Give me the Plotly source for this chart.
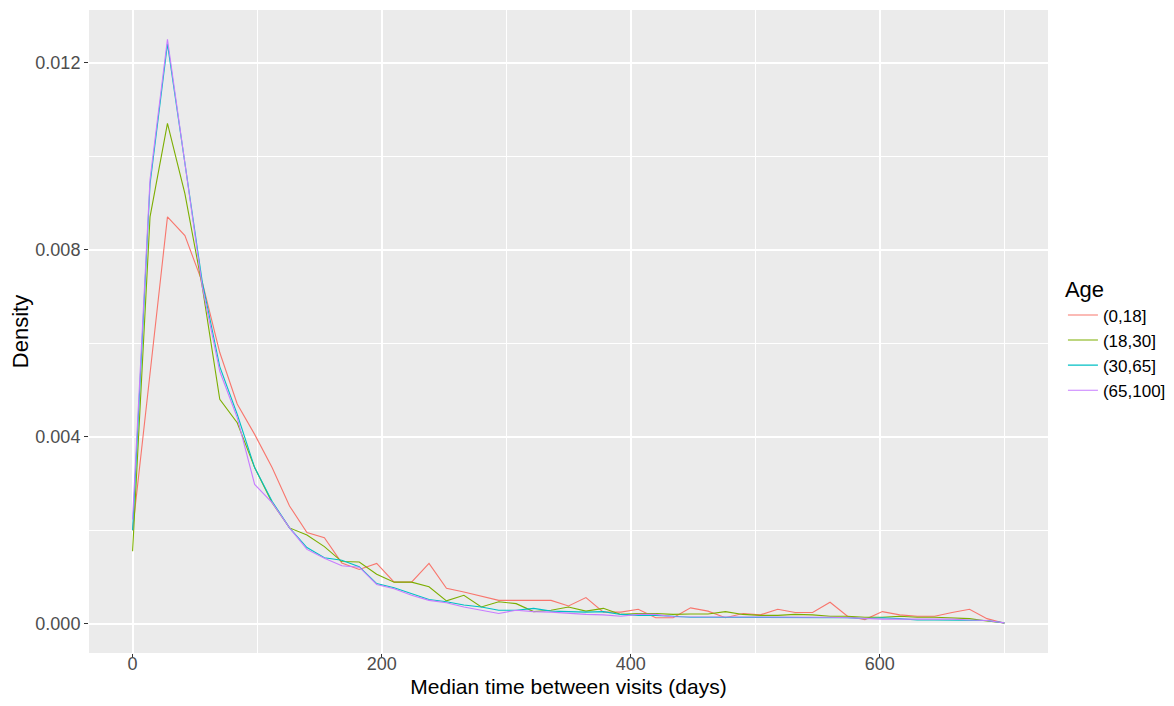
import plotly.graph_objects as go

# bin centres (days)
days = [0, 14, 28, 42, 56, 70, 84, 98, 112, 126, 140, 154, 168, 182, 196, 210,
        224, 238, 252, 266, 280, 294, 308, 322, 336, 350, 364, 378, 392, 406,
        420, 434, 448, 462, 476, 490, 504, 518, 532, 546, 560, 574, 588, 602,
        616, 630, 644, 658, 672, 686, 700]

age_groups = ["(0,18]", "(18,30]", "(30,65]", "(65,100]"]

dens_0_18 = [0.0020, 0.0053, 0.0087, 0.0083, 0.0073, 0.0058, 0.0047, 0.00405,
             0.00334, 0.00252, 0.00195, 0.00184, 0.0013, 0.00116, 0.00129,
             0.00089, 0.00089, 0.00129, 0.00076, 0.00068, 0.00059, 0.0005,
             0.0005, 0.0005, 0.0005, 0.00038, 0.00056, 0.00025, 0.00025,
             0.00031, 0.00013, 0.00013, 0.00034, 0.00027, 0.00013, 0.00022,
             0.00019, 0.00031, 0.00024, 0.00024, 0.00046, 0.00016, 0.00009,
             0.00026, 0.00019, 0.00016, 0.00016, 0.00024, 0.00031, 0.00011,
             0.00001]

dens_18_30 = [0.00155, 0.0087, 0.0107, 0.0092, 0.0072, 0.0048, 0.0043, 0.00334,
              0.00259, 0.00205, 0.0019, 0.00165, 0.00133, 0.00132, 0.00106,
              0.00089, 0.00089, 0.00079, 0.00049, 0.00061, 0.00036, 0.00047,
              0.00043, 0.00026, 0.00029, 0.00036, 0.00027, 0.00033, 0.0002,
              0.00022, 0.00022, 0.0002, 0.00021, 0.00021, 0.00026, 0.0002,
              0.00018, 0.00018, 0.0002, 0.00019, 0.00016, 0.00016, 0.00014,
              0.00014, 0.00016, 0.00014, 0.00014, 0.00013, 0.00011, 0.00006,
              0.00002]

dens_30_65 = [0.0020, 0.0094, 0.0124, 0.0098, 0.0073, 0.0055, 0.00448, 0.00334,
              0.00262, 0.00205, 0.00163, 0.00141, 0.00136, 0.00122, 0.00086,
              0.00077, 0.00064, 0.00052, 0.00047, 0.0004, 0.00036, 0.00029,
              0.00029, 0.00033, 0.00027, 0.00026, 0.00025, 0.00026, 0.0002,
              0.00018, 0.00018, 0.00016, 0.00014, 0.00014, 0.00014, 0.00014,
              0.00014, 0.00014, 0.00014, 0.00014, 0.00013, 0.00013, 0.00011,
              0.00013, 0.00011, 0.00008, 0.00008, 0.00008, 0.00008, 0.00007,
              0.00002]

dens_65_100 = [0.00223, 0.0095, 0.0125, 0.0099, 0.0072, 0.0054, 0.00441,
               0.00298, 0.00259, 0.00205, 0.00159, 0.0014, 0.00124, 0.00121,
               0.00084, 0.00075, 0.00061, 0.0005, 0.00045, 0.00036, 0.00029,
               0.00022, 0.00029, 0.00026, 0.00025, 0.00022, 0.0002, 0.00019,
               0.00016, 0.0002, 0.0002, 0.00015, 0.00015, 0.00014, 0.00014,
               0.00014, 0.00014, 0.00014, 0.00014, 0.00014, 0.00014, 0.00013,
               0.00011, 0.0001, 0.0001, 0.0001, 0.0001, 0.0001, 0.00008,
               0.00007, 0.00002]

series = [dens_0_18, dens_18_30, dens_30_65, dens_65_100]
colors = ["#F8766D", "#7CAE00", "#00BFC4", "#C77CFF"]

font_family = "Arial, Liberation Sans, sans-serif"

fig = go.Figure()

for name, values, color in zip(age_groups, series, colors):
    fig.add_trace(go.Scatter(
        x=days,
        y=values,
        mode="lines",
        name=name,
        line=dict(color=color, width=1.1),
    ))

# the page has an 8px body margin, so the figure is 16px smaller than the window
fig.update_layout(
    width=1158,
    height=690,
    margin=dict(l=81, r=118, t=2, b=45),
    paper_bgcolor="white",
    plot_bgcolor="#EBEBEB",
    font=dict(family=font_family, size=18, color="black"),
    showlegend=True,
    legend=dict(
        title=dict(text="Age", font=dict(size=22, color="black")),
        font=dict(size=17, color="black"),
        xref="container",
        yref="container",
        x=0.911,
        y=0.622,
        xanchor="left",
        yanchor="top",
        bgcolor="rgba(0,0,0,0)",
        itemwidth=30,
        tracegroupgap=0,
    ),
)

fig.update_xaxes(
    range=[-35, 735],
    tickvals=[0, 200, 400, 600],
    automargin=False,
    showgrid=True,
    gridcolor="white",
    gridwidth=1.6,
    minor=dict(dtick=100, tick0=0, showgrid=True, gridcolor="white", gridwidth=0.8),
    zeroline=False,
    showline=False,
    ticks="outside",
    ticklen=4,
    tickwidth=1,
    tickcolor="#333333",
    ticklabelstandoff=-10,
    tickfont=dict(size=18, color="#4D4D4D"),
    title=dict(text="Median time between visits (days)", font=dict(size=21, color="black"), standoff=10),
)

fig.update_yaxes(
    range=[-0.000625, 0.013125],
    tickvals=[0, 0.004, 0.008, 0.012],
    tickformat=".3f",
    automargin=False,
    showgrid=True,
    gridcolor="white",
    gridwidth=1.6,
    minor=dict(dtick=0.002, tick0=0, showgrid=True, gridcolor="white", gridwidth=0.8),
    zeroline=False,
    showline=False,
    ticks="outside",
    ticklen=4,
    tickwidth=1,
    tickcolor="#333333",
    tickfont=dict(size=18, color="#4D4D4D"),
    title=dict(text="Density", font=dict(size=22, color="black"), standoff=6),
)

fig.write_html("out.html")
